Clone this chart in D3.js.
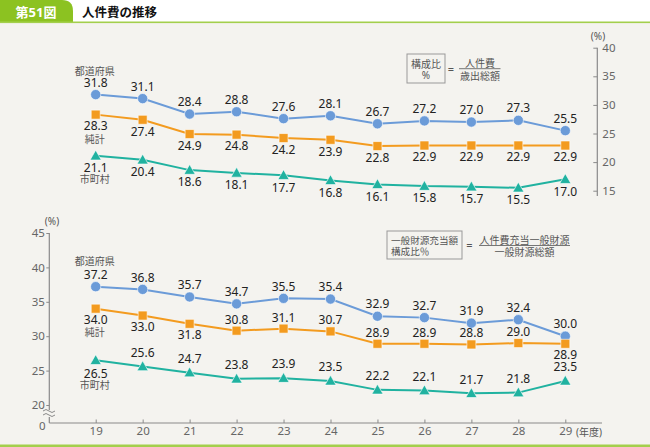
<!DOCTYPE html>
<html><head><meta charset="utf-8">
<script src="https://cdn.jsdelivr.net/npm/d3@7"></script>
<style>
body{margin:0;background:#f4f3ef;}
svg{display:block;}
text{font-family:"Noto Sans","Noto Sans CJK JP",sans-serif;}
</style></head><body>
<svg id="c" width="650" height="447"></svg>
<script>
const years = ["19","20","21","22","23","24","25","26","27","28","29"];
const topPref  = [31.8,31.1,28.4,28.8,27.6,28.1,26.7,27.2,27.0,27.3,25.5];
const topTotal = [28.3,27.4,24.9,24.8,24.2,23.9,22.8,22.9,22.9,22.9,22.9];
const topCity  = [21.1,20.4,18.6,18.1,17.7,16.8,16.1,15.8,15.7,15.5,17.0];
const botPref  = [37.2,36.8,35.7,34.7,35.5,35.4,32.9,32.7,31.9,32.4,30.0];
const botTotal = [34.0,33.0,31.8,30.8,31.1,30.7,28.9,28.9,28.8,29.0,28.9];
const botCity  = [26.5,25.6,24.7,23.8,23.9,23.5,22.2,22.1,21.7,21.8,23.5];
const topTicks = [15,20,25,30,35,40];
const botTicks = [20,25,30,35,40,45];
const seriesNames = ["都道府県","純計","市町村"];
const botTotalSide = ["b","b","b","a","a","a","a","a","a","a","b"];
const botCitySide  = ["b","a","a","a","a","a","a","a","a","a","a"];

const svg = d3.select("#c");
const C = {pref:"#6b9bd8", total:"#f39b1f", city:"#20b2a0"};
const green = "#8cc221";

// header
svg.append("rect").attr("x",0).attr("y",0).attr("width",650).attr("height",22).attr("fill","#fff");
svg.append("path").attr("d","M0,22 L0,0 L62,0 Q73,0 73,11 L73,22 Z").attr("fill",green);
svg.append("rect").attr("x",0).attr("y",21.5).attr("width",650).attr("height",1.6).attr("fill","#a3cf4c");
svg.append("text").attr("x",36).attr("y",12).attr("text-anchor","middle").attr("dominant-baseline","central")
  .attr("fill","#fff").attr("font-size",13).attr("font-weight","bold").text("第51図");
svg.append("text").attr("x",82).attr("y",12).attr("dominant-baseline","central")
  .attr("fill","#111").attr("font-size",12.5).attr("font-weight","bold").text("人件費の推移");
svg.append("rect").attr("x",0).attr("y",444.5).attr("width",650).attr("height",2.5).attr("fill","#a3cf4c");

const x = d3.scalePoint().domain(years).range([95.7,565.3]);
const yT = d3.scaleLinear().domain([15,40]).range([190.7,47.7]);
const yB = d3.scaleLinear().domain([20,45]).range([405,233]);

const axisCol = "#8a8a8a", tickTxt = "#666";

// top right axis
const gT = svg.append("g").attr("transform","translate(597.3,0)")
  .call(d3.axisRight(yT).tickValues(topTicks).tickSizeInner(-4).tickSizeOuter(0).tickPadding(5));
gT.select(".domain").remove();
gT.selectAll("line").attr("stroke",axisCol);
gT.selectAll("text").attr("fill",tickTxt).attr("font-size",11.5);
svg.append("line").attr("x1",597.3).attr("x2",597.3).attr("y1",yT(40)).attr("y2",196).attr("stroke",axisCol).attr("stroke-width",1.2);
svg.append("text").attr("x",598).attr("y",36).attr("text-anchor","middle").attr("dominant-baseline","central")
  .attr("fill","#555").attr("font-size",10).text("(%)");

// bottom left axis
const gB = svg.append("g").attr("transform","translate(49.3,0)")
  .call(d3.axisLeft(yB).tickValues(botTicks).tickSizeInner(3).tickSizeOuter(0).tickPadding(1.5));
gB.select(".domain").remove();
gB.selectAll("line").attr("stroke",axisCol);
gB.selectAll("text").attr("fill",tickTxt).attr("font-size",11.5);
svg.append("line").attr("x1",49.3).attr("x2",49.3).attr("y1",yB(45)).attr("y2",410).attr("stroke",axisCol).attr("stroke-width",1.2);
svg.append("line").attr("x1",49.3).attr("x2",49.3).attr("y1",417).attr("y2",423).attr("stroke",axisCol).attr("stroke-width",1.2);
[411,415].forEach(yy=>{
  svg.append("path").attr("d",`M43,${yy} q3,-3 6,0 t6,0`).attr("fill","none").attr("stroke",axisCol).attr("stroke-width",1);
});
svg.append("text").attr("x",45.5).attr("y",425).attr("text-anchor","end").attr("dominant-baseline","central")
  .attr("fill",tickTxt).attr("font-size",11.5).text("0");
svg.append("text").attr("x",52).attr("y",221).attr("text-anchor","middle").attr("dominant-baseline","central")
  .attr("fill","#555").attr("font-size",10).text("(%)");

// x axis
const gX = svg.append("g").attr("transform","translate(0,423)")
  .call(d3.axisBottom(x).tickSizeInner(-3.5).tickSizeOuter(0).tickPadding(3.5));
gX.select(".domain").remove();
gX.selectAll("line").attr("stroke",axisCol);
gX.selectAll("text").attr("fill",tickTxt).attr("font-size",11.5);
svg.append("line").attr("x1",49.3).attr("x2",602).attr("y1",423).attr("y2",423).attr("stroke",axisCol).attr("stroke-width",1.2);
svg.append("text").attr("x",589).attr("y",431.5).attr("text-anchor","middle").attr("dominant-baseline","central")
  .attr("fill","#555").attr("font-size",10).text("(年度)");

// formula boxes
const fcol = "#555";
function t(xx,yy,s,anchor,size){
  return svg.append("text").attr("x",xx).attr("y",yy).attr("text-anchor",anchor||"middle")
    .attr("dominant-baseline","central").attr("fill",fcol).attr("font-size",size||10).text(s);
}
svg.append("rect").attr("x",407).attr("y",54).attr("width",38).attr("height",29).attr("fill","none").attr("stroke","#999").attr("stroke-width",1);
t(426,63.5,"構成比"); t(426,75,"%");
t(451,68,"=","middle",11);
svg.append("line").attr("x1",459).attr("x2",500.5).attr("y1",68.7).attr("y2",68.7).attr("stroke",fcol).attr("stroke-width",0.8);
t(480,62.5,"人件費"); t(480,75.5,"歳出総額");

svg.append("rect").attr("x",387).attr("y",231).attr("width",75).attr("height",28).attr("fill","none").attr("stroke","#999").attr("stroke-width",1);
t(391,240,"一般財源充当額","start",9.6); t(391,251.5,"構成比％","start",9.6);
t(469.5,244,"=","middle",11);
svg.append("line").attr("x1",479).attr("x2",570).attr("y1",245.5).attr("y2",245.5).attr("stroke",fcol).attr("stroke-width",0.8);
t(524.5,239.5,"人件費充当一般財源"); t(524.5,252,"一般財源総額");

// series drawing
function drawSeries(vals, y, color, shape, sides, offA, offB, nameOff, name){
  const g = svg.append("g");
  g.append("path").datum(vals)
    .attr("d", d3.line().x((d,i)=>x(years[i])).y(d=>y(d)))
    .attr("fill","none").attr("stroke",color).attr("stroke-width",2);
  const sym = shape==="circle" ? d3.symbol(d3.symbolCircle, 82)
            : shape==="square" ? d3.symbol(d3.symbolSquare, 81)
            : null;
  vals.forEach((v,i)=>{
    const cx = x(years[i]), cy = y(v);
    if (shape==="triangle"){
      g.append("path").attr("d",`M${cx},${cy-5.6} L${cx+5.6},${cy+4.2} L${cx-5.6},${cy+4.2} Z`)
        .attr("fill",color).attr("stroke","#fff").attr("stroke-width",0.6);
    } else {
      g.append("path").attr("d",sym()).attr("transform",`translate(${cx},${cy})`)
        .attr("fill",color).attr("stroke","#fff").attr("stroke-width",0.6);
    }
    const side = sides[i];
    g.append("text").attr("x",cx).attr("y",cy + (side==="a"?offA:offB))
      .attr("text-anchor","middle").attr("dominant-baseline","central")
      .attr("fill","#222").attr("font-size",12).text(v.toFixed(1));
  });
  g.append("text").attr("x",x(years[0])-1).attr("y",y(vals[0])+nameOff)
    .attr("text-anchor","middle").attr("dominant-baseline","central")
    .attr("fill","#555").attr("font-size",10).text(name);
}
const allA = years.map(()=>"a"), allB = years.map(()=>"b");
drawSeries(topPref, yT, C.pref, "circle", allA, -12.5, 12, -24, seriesNames[0]);
drawSeries(topTotal, yT, C.total, "square", allB, -12, 11.3, 24, seriesNames[1]);
drawSeries(topCity, yT, C.city, "triangle", allB, -14, 11.8, 23.2, seriesNames[2]);
drawSeries(botPref, yB, C.pref, "circle", allA, -12.3, 12, -26, seriesNames[0]);
drawSeries(botTotal, yB, C.total, "square", botTotalSide, -11.5, 10.5, 23.5, seriesNames[1]);
drawSeries(botCity, yB, C.city, "triangle", botCitySide, -14.3, 13.5, 24.5, seriesNames[2]);
</script>
</body></html>
